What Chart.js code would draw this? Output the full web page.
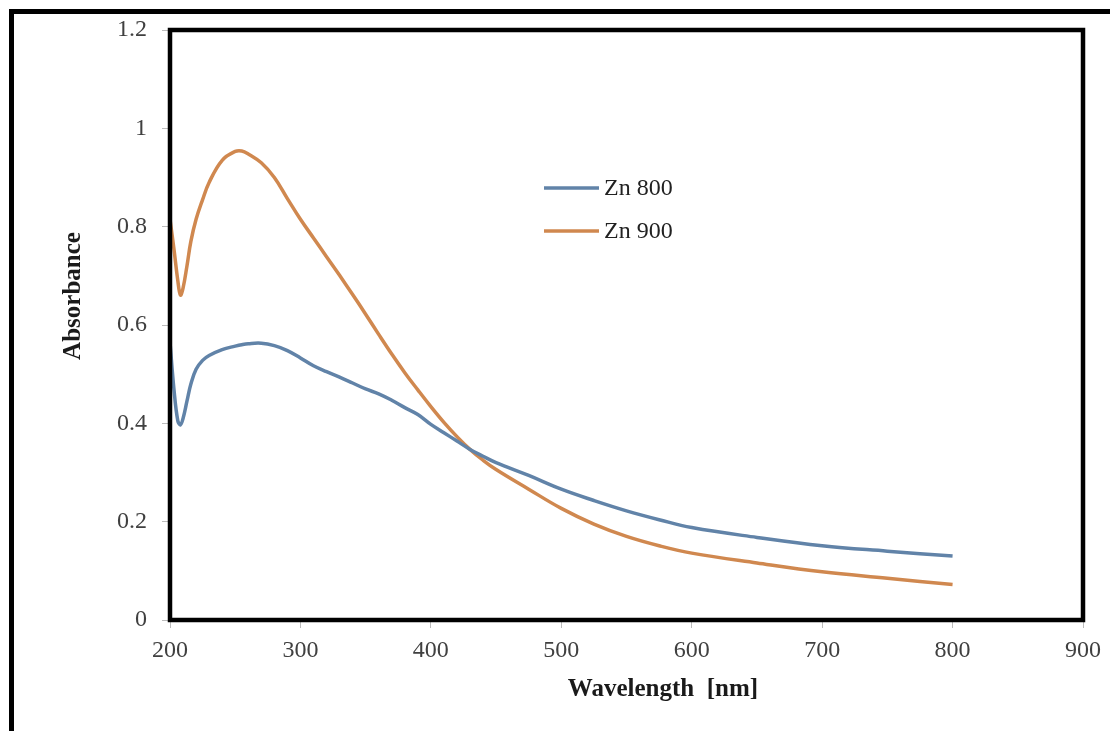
<!DOCTYPE html>
<html>
<head>
<meta charset="utf-8">
<script src="https://cdn.jsdelivr.net/npm/chart.js@4.4.0/dist/chart.umd.min.js"></script>
<style>
  html, body { margin: 0; padding: 0; background: #fff; }
  #wrap { position: relative; width: 1110px; height: 731px; overflow: hidden; }
  #frame { position: absolute; left: 9px; top: 9px; width: 1200px; height: 800px;
           border-left: 5px solid #000; border-top: 5px solid #000; box-sizing: border-box; }
  #chart { position: absolute; left: 0; top: 0; }
</style>
</head>
<body>
<div id="wrap">
  <div id="frame"></div>
  <canvas id="chart" width="1110" height="731"></canvas>
</div>
<script>
// ---- data ---- //
const wavelength = [200, 203, 206, 208, 210, 213, 216, 220, 225, 230, 240, 250, 255, 260, 270, 280, 290,
  300, 310, 320, 330, 340, 350, 360, 370, 380, 390, 400, 410, 420, 430, 440, 450, 475, 500,
  525, 550, 575, 600, 650, 700, 750, 800];

const zn800 = [0.565, 0.47, 0.405, 0.397, 0.41, 0.445, 0.48, 0.51, 0.528, 0.538, 0.55, 0.557, 0.56, 0.562, 0.563, 0.558, 0.548,
  0.533, 0.517, 0.505, 0.494, 0.482, 0.47, 0.46, 0.447, 0.432, 0.418, 0.398, 0.381, 0.364, 0.347, 0.333, 0.32, 0.294, 0.266,
  0.243, 0.222, 0.204, 0.188, 0.168, 0.151, 0.14, 0.13];

const zn900 = [0.815, 0.755, 0.69, 0.661, 0.675, 0.72, 0.77, 0.815, 0.855, 0.89, 0.935, 0.953, 0.954, 0.948, 0.93, 0.90, 0.857,
  0.815, 0.777, 0.739, 0.701, 0.662, 0.622, 0.581, 0.541, 0.503, 0.468, 0.434, 0.402, 0.373, 0.347, 0.325, 0.306, 0.266, 0.227,
  0.195, 0.17, 0.151, 0.136, 0.116, 0.098, 0.085, 0.072];

const seriesNames = ["Zn 800", "Zn 900"];
const seriesColors = ["#6183a8", "#d0884f"];

const xTitle = "Wavelength  [nm]";
const yTitle = "Absorbance";

function toPoints(ys) {
    return wavelength.map((w, i) => ({ x: w, y: ys[i] }));
}

// ---- box, legend and axis titles ---- //
const extras = {
    id: "extras",
    afterDraw(chart) {
        const c = chart.ctx;
        const a = chart.chartArea;
        c.save();
        c.strokeStyle = "#000";
        c.lineWidth = 4.5;
        c.strokeRect(a.left, a.top, a.right - a.left, a.bottom - a.top);

        // legend inside the plot
        c.font = "24px 'Liberation Serif'";
        c.textBaseline = "middle";
        c.textAlign = "left";
        chart.data.datasets.forEach((ds, i) => {
            const y = 188 + i * 43;
            c.strokeStyle = ds.borderColor;
            c.lineWidth = 3.5;
            c.beginPath();
            c.moveTo(544, y);
            c.lineTo(599, y);
            c.stroke();
            c.fillStyle = "#222";
            c.fillText(ds.label, 604, y + 1);
        });

        // axis titles
        c.fillStyle = "#1a1a1a";
        c.font = "bold 25px 'Liberation Serif'";
        c.textAlign = "center";
        c.textBaseline = "middle";
        c.fillText(xTitle, 663, 690);
        c.translate(74, 296);
        c.rotate(-Math.PI / 2);
        c.fillText(yTitle, 0, 0);
        c.restore();
    }
};

const ctx = document.getElementById("chart");
let absChart = new Chart(ctx, {
    type: "line",
    data: {
        datasets: [{
            label: seriesNames[0],
            data: toPoints(zn800),
            borderColor: seriesColors[0],
            borderWidth: 3.5,
            pointRadius: 0,
            tension: 0.4,
            fill: false
        }, {
            label: seriesNames[1],
            data: toPoints(zn900),
            borderColor: seriesColors[1],
            borderWidth: 3.5,
            pointRadius: 0,
            tension: 0.4,
            fill: false
        }]
    },
    options: {
        responsive: false,
        animation: false,
        layout: { padding: { top: 30, right: 27, left: 0, bottom: 0 } },
        plugins: {
            legend: { display: false },
            tooltip: { enabled: false }
        },
        scales: {
            x: {
                type: "linear",
                min: 200,
                max: 900,
                afterFit(scale) { scale.height = 111; },
                border: { display: false },
                grid: { drawOnChartArea: false, drawTicks: true, tickLength: 8, color: "#bbb" },
                ticks: {
                    stepSize: 100,
                    padding: 8,
                    color: "#404040",
                    font: { family: "'Liberation Serif'", size: 24 }
                }
            },
            y: {
                min: 0,
                max: 1.2,
                afterFit(scale) { scale.width = 170; },
                border: { display: false },
                grid: { drawOnChartArea: false, drawTicks: true, tickLength: 8, color: "#bbb" },
                ticks: {
                    stepSize: 0.2,
                    padding: 15,
                    color: "#404040",
                    font: { family: "'Liberation Serif'", size: 24 },
                    callback: (v) => String(Number(v.toFixed(1)))
                }
            }
        }
    },
    plugins: [extras]
});
</script>
</body>
</html>
